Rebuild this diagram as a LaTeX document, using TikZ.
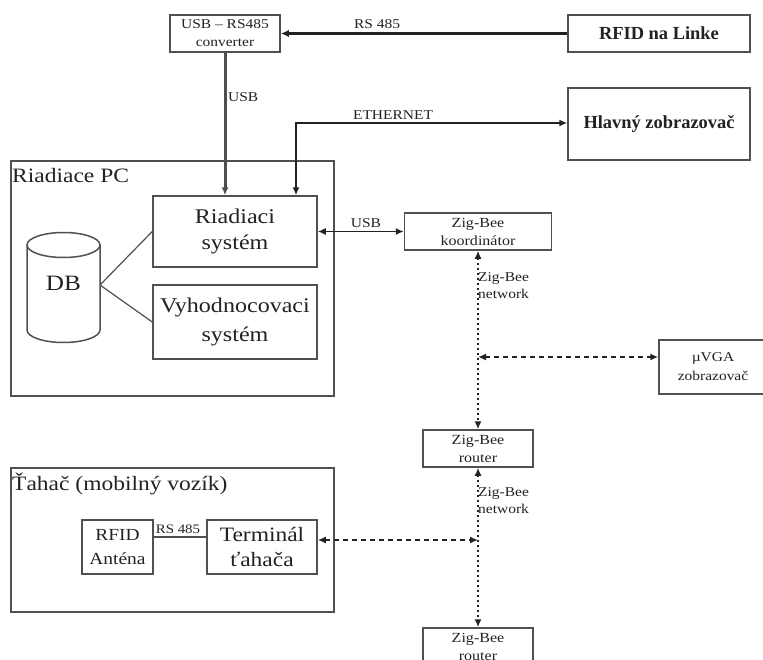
\documentclass[tikz,border=0pt]{standalone}
\usepackage{fontspec}
\setmainfont{Liberation Serif}[FakeStretch=1.15]
\newfontfamily\plainserif{Liberation Serif}
\usetikzlibrary{arrows.meta}
\definecolor{bord}{HTML}{505050}
\definecolor{ink}{HTML}{222222}
\newcommand{\fsz}[2]{\fontsize{#1}{#2}\selectfont}
\begin{document}
\begin{tikzpicture}[x=1bp,y=-1bp,
  box/.style={draw=bord,line width=1.5bp,rectangle,inner sep=0pt,align=center,text=ink},
  lbl/.style={inner sep=0pt,text=ink,font=\fsz{13.5}{17}},
  conn/.style={draw=ink,line width=1.5bp},
  tipend/.style={-{Latex[length=8bp,width=7bp]}},
  tipboth/.style={{Latex[length=8bp,width=7bp]}-{Latex[length=8bp,width=7bp]}},
  dotline/.style={draw=ink,line width=2bp,dash pattern=on 2bp off 3bp},
  dashline/.style={draw=ink,line width=1.6bp,dash pattern=on 5bp off 4bp}]
\clip (0,0) rectangle (763,660);
\fill[white] (0,0) rectangle (763,660);

% top row
\node[box,minimum width=110bp,minimum height=37bp,font=\fsz{13.5}{18}] (conv) at (225,33.5) {USB -- RS485\\converter};
\node[box,minimum width=182bp,minimum height=37bp,font=\plainserif\bfseries\fsz{18.5}{22}] (rfid) at (659,33.5) {RFID na Linke};
\node[box,minimum width=182bp,minimum height=72bp,font=\plainserif\bfseries\fsz{18.5}{22}] (hl) at (659,124) {Hlavný zobrazovač};

% Riadiace PC
\node[box,minimum width=323bp,minimum height=235bp,anchor=north west] (pc) at (10,160) {};
\node[inner sep=0pt,anchor=west,text=ink,font=\fsz{20.5}{24}] (pcl) at (12,176) {Riadiace PC};
\node[box,minimum width=164bp,minimum height=71bp,font=\fsz{21}{27}] (rs) at (235,231.5) {Riadiaci\\systém};
\node[box,minimum width=164bp,minimum height=74bp,font=\fsz{21}{30}] (vy) at (235,322) {Vyhodnocovaci\\systém};
\draw[bord,line width=1.5bp,fill=white] (27,245) -- (27,330) arc[start angle=180,end angle=0,x radius=36.5,y radius=12.5] -- (100,245);
\draw[bord,line width=1.5bp] (63.5,245) ellipse[x radius=36.5,y radius=12.5];
\node[inner sep=0pt,text=ink,font=\fsz{22}{26}] (db) at (63.5,283) {DB};
\coordinate (dbc) at (100,285);
\draw[bord,line width=1.2bp] (dbc) -- (rs.west);
\draw[bord,line width=1.2bp] (dbc) -- (vy.west);

% ZigBee column
\node[box,minimum width=147bp,minimum height=37bp,font=\fsz{14}{18}] (koor) at (478,231.5) {Zig-Bee\\koordinátor};
\node[box,minimum width=110bp,minimum height=37bp,font=\fsz{14}{18}] (r1) at (478,448.5) {Zig-Bee\\router};
\node[box,minimum width=110bp,minimum height=37bp,font=\fsz{14}{18}] (r2) at (478,646.5) {Zig-Bee\\router};
\node[box,minimum width=108bp,minimum height=54bp,font=\fsz{13.5}{19}] (vga) at (713,367) {µVGA\\zobrazovač};

% Tahac
\node[box,minimum width=323bp,minimum height=144bp,anchor=north west] (tah) at (10,467) {};
\node[inner sep=0pt,anchor=west,text=ink,font=\fsz{20.5}{24}] (tahl) at (12,484) {Ťahač (mobilný vozík)};
\node[box,minimum width=71bp,minimum height=54bp,font=\fsz{17}{24}] (ant) at (117.5,547) {RFID\\Anténa};
\node[box,minimum width=110bp,minimum height=54bp,font=\fsz{20.5}{26}] (term) at (262,547) {Terminál\\ťahača};

% connectors
\draw[conn,line width=2.2bp,tipend] (rfid.west) -- (conv.east);
\node[lbl] (lrs) at (377,24) {RS 485};
\draw[draw=ink!80,line width=3bp,tipend] (conv.south) -- (conv.south |- rs.north);
\node[lbl,anchor=west] (lusb1) at (228,97) {USB};
\coordinate (eth) at (296,123);
\draw[conn,tipboth] (eth -| hl.west) -- (eth) -- (eth |- rs.north);
\node[lbl] (leth) at (393,115) {ETHERNET};
\draw[conn,tipboth] (rs.east) -- (koor.west);
\node[lbl] (lusb2) at (366,223) {USB};
\draw[dotline,tipboth] (koor.south) -- (r1.north);
\node[lbl,anchor=north west,align=left,font=\fsz{13.5}{17}] (lnet1) at (478,272) {Zig-Bee\\network};
\coordinate (n1) at (478,357);
\draw[dashline,tipboth] (n1) -- (n1 -| vga.west);
\draw[dotline,tipboth] (r1.south) -- (r2.north);
\node[lbl,anchor=north west,align=left,font=\fsz{13.5}{17}] (lnet2) at (478,487) {Zig-Bee\\network};
\coordinate (n2) at (478,540);
\draw[dashline,tipboth] (n2 -| term.east) -- (n2);
\coordinate (a1) at (0,537);
\draw[bord,line width=1.2bp] (ant.east |- a1) -- (term.west |- a1);
\node[lbl,font=\fsz{13}{16}] (lrs2) at (178,529) {RS 485};
\end{tikzpicture}
\end{document}
